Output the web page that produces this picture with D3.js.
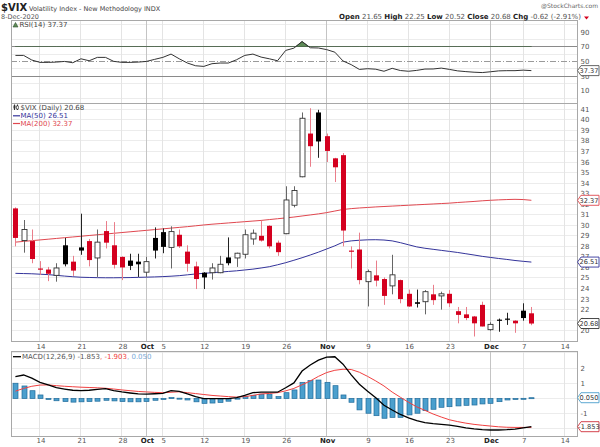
<!DOCTYPE html>
<html>
<head>
<meta charset="utf-8">
<script src="https://cdn.jsdelivr.net/npm/d3@7"></script>
<style>
  body { margin: 0; background: #fff; }
  text { font-family: "DejaVu Sans", Verdana, sans-serif; }
</style>
</head>
<body>
<div id="chart"></div>
<script>
// Trading days 9-Sep-2020 .. 8-Dec-2020 (index 0..63)
var openP  = [31.6,28.55,28.5,25.9,25.8,25.25,28.1,26.55,27.9,28.5, 26.9,29.45,28.1,27.0,26.65,26.55,25.55,28.8,29.35,27.9,
              29.1,27.5,26.1,25.5,25.5,25.5,26.95,26.9,27.25,28.7, 29.0,29.95,28.35,29.2,31.9,34.6,38.7,40.7,38.45,36.35,
              36.65,27.6,27.7,24.65,25.25,24.9,24.25,24.8,23.5,22.7, 22.75,23.45,23.3,23.5,21.85,21.55,21.35,22.45,20.1,21.05,
              21.15,20.95,21.9,21.65];
var highP  = [31.7,30.5,29.6,26.6,26.05,26.4,28.8,27.1,31.1,28.7, 29.6,30.4,30.3,27.05,27.3,27.3,27.0,29.8,29.7,29.9,
              29.6,28.1,26.55,25.55,26.4,27.1,28.85,27.4,29.6,29.6, 30.4,30.0,28.55,33.7,33.7,40.7,41.1,40.95,38.7,36.4,
              36.85,28.0,29.3,25.8,26.65,25.05,27.2,24.85,23.9,23.9, 23.85,24.35,23.7,23.85,22.25,22.25,21.4,22.75,20.8,21.15,
              21.7,21.0,22.6,22.25];
var lowP   = [28.0,27.4,26.4,25.3,24.7,24.65,26.1,25.2,27.2,26.1, 25.1,27.8,25.9,24.8,25.75,25.1,25.1,26.85,27.35,25.9,
              27.85,25.6,23.95,23.95,24.85,25.45,26.2,26.05,26.85,28.15, 28.45,27.8,27.1,29.15,31.7,34.55,35.55,36.4,36.0,34.1,
              28.0,25.9,24.4,22.3,24.2,22.45,23.45,22.6,22.25,22.2, 21.55,22.45,22.0,22.25,20.7,21.0,19.45,20.4,20.0,19.9,
              20.55,19.8,20.95,20.52];
var closeP = [28.8,29.6,26.8,25.8,25.4,25.95,26.3,25.7,27.6,26.7, 28.4,28.35,26.25,26.0,26.15,26.3,26.55,27.6,27.95,29.4,
              28.0,26.35,24.9,25.05,25.95,26.3,26.4,27.35,29.1,29.25, 28.55,28.0,27.45,32.4,33.3,40.15,37.5,37.95,37.05,35.5,
              29.5,27.55,24.8,25.6,24.75,23.3,25.3,23.0,22.3,22.55, 23.7,22.9,23.5,22.6,21.5,21.2,20.7,20.4,20.6,20.95,
              21.05,20.7,21.2,20.68];
var prevClose = 31.46; // 8-Sep close, colours the first candle

var ma50  = [25.44,25.42,25.40,25.36,25.32,25.25,25.18,25.12,25.07,25.05, 25.03,25.02,25.02,25.03,25.04,25.06,25.08,25.10,25.13,25.17,
             25.22,25.30,25.38,25.44,25.50,25.56,25.62,25.68,25.76,25.84, 25.95,26.07,26.25,26.45,26.68,26.92,27.18,27.45,27.75,28.05,
             28.40,28.52,28.58,28.62,28.63,28.60,28.52,28.35,28.15,27.95, 27.82,27.72,27.62,27.52,27.42,27.30,27.18,27.05,26.95,26.85,
             26.76,26.66,26.58,26.51];
var ma200 = [28.40,28.47,28.54,28.61,28.68,28.75,28.82,28.89,28.96,29.03, 29.10,29.17,29.24,29.31,29.38,29.45,29.52,29.59,29.66,29.73,
             29.80,29.87,29.95,30.03,30.10,30.16,30.22,30.28,30.34,30.40, 30.46,30.54,30.62,30.70,30.78,30.88,30.98,31.08,31.20,31.35,
             31.50,31.58,31.64,31.69,31.74,31.78,31.82,31.86,31.90,31.94, 31.98,32.02,32.06,32.10,32.16,32.21,32.26,32.32,32.37,32.41,
             32.44,32.46,32.44,32.37];

var rsi = [58.1,58.1,51.8,48.6,48.6,49.0,49.9,48.1,53.5,50.8, 55.4,55.4,50.0,48.6,48.6,49.0,49.9,52.7,55.4,59.9,
           53.5,47.7,44.0,43.1,46.8,47.7,47.7,52.2,58.1,59.9, 55.8,53.5,50.8,64.9,68.0,77.0,68.5,68.2,66.0,62.5,
           50.5,45.5,39.0,40.0,39.3,36.5,40.5,37.5,36.5,37.7, 39.5,39.6,40.8,39.0,37.0,36.0,35.2,34.7,35.8,37.0,
           37.3,37.3,38.0,37.37];

var macd   = [1.43,1.54,1.33,1.06,0.89,0.71,0.62,0.54,0.52,0.54, 0.60,0.64,0.52,0.43,0.36,0.30,0.28,0.31,0.34,0.51,
              0.47,0.30,0.12,-0.01,-0.01,-0.01,-0.01,0.06,0.20,0.38, 0.41,0.41,0.41,0.70,1.02,1.80,2.20,2.52,2.72,2.74,
              2.25,1.55,0.93,0.48,0.05,-0.45,-0.76,-1.05,-1.28,-1.46, -1.58,-1.65,-1.70,-1.75,-1.83,-1.93,-2.00,-2.05,-2.07,-2.07,
              -2.05,-2.01,-1.93,-1.853];
var signal = [0.48,0.66,0.80,0.88,0.89,0.84,0.80,0.77,0.74,0.72, 0.70,0.67,0.62,0.56,0.51,0.46,0.43,0.40,0.38,0.41,
              0.44,0.38,0.32,0.26,0.20,0.16,0.12,0.09,0.12,0.20, 0.30,0.33,0.38,0.50,0.66,0.90,1.15,1.45,1.70,1.85,
              1.92,1.90,1.72,1.45,1.15,0.82,0.42,0.08,-0.25,-0.55, -0.78,-1.02,-1.22,-1.40,-1.52,-1.62,-1.70,-1.76,-1.81,-1.86,
              -1.89,-1.90,-1.90,-1.903];
var hist   = [1.00,0.82,0.51,0.23,-0.03,-0.15,-0.20,-0.24,-0.22,-0.20, -0.18,-0.12,-0.16,-0.20,-0.22,-0.22,-0.20,-0.12,-0.06,0.06,
              0.02,-0.10,-0.22,-0.32,-0.30,-0.26,-0.18,0.02,0.12,0.21, 0.28,0.28,0.12,0.38,0.56,1.06,1.17,1.21,1.06,0.84,
              0.23,-0.25,-0.75,-0.97,-1.13,-1.30,-1.24,-1.24,-1.08,-0.97, -0.80,-0.71,-0.58,-0.54,-0.49,-0.45,-0.43,-0.36,-0.32,-0.21,
              -0.10,-0.03,0.01,0.05];

// x tick positions (trading-day index) and labels
var tickIdx    = [3, 8, 13, 16, 18, 23, 28, 33, 38, 43, 48, 53, 58, 62, 67];
var tickLabels = ["14", "21", "28", "Oct", "5", "12", "19", "26", "Nov", "9", "16", "23", "Dec", "7", "14"];

var mainTicks = d3.range(20, 42);
var rsiTicks = [10, 30, 50, 70, 90];
var macdTicks = [2, 1, -1];

var svgWidth = 600;
var svgHeight = 447;
var left = 11, right = 577.5;

var svg = d3.select("#chart")
  .append("svg")
  .attr("width", svgWidth)
  .attr("height", svgHeight);

var x = d3.scaleLinear().domain([-0.54, 68.63]).range([left, right]);

var rsiPanel = {top: 20.7, bottom: 103.3};
var mainPanel = {top: 103.3, bottom: 341.7};
var macdPanel = {top: 351.7, bottom: 436};

var yRsi = d3.scaleLinear().domain([10, 90]).range([90.7, 32]);
var yMain = d3.scaleLinear().domain([20, 41]).range([330.7, 109.3]);
var yMacd = d3.scaleLinear().domain([-1, 2]).range([413.7, 368]);

var idx = d3.range(closeP.length);

// Step 1: panels and vertical grid
// ==============================
function verticalGrid(p) {
  svg.append("g").selectAll("line")
    .data(tickIdx)
    .enter()
    .append("line")
    .attr("x1", d => x(d)).attr("x2", d => x(d))
    .attr("y1", p.top).attr("y2", p.bottom)
    .attr("stroke", (d, i) => isNaN(+tickLabels[i]) ? "#c4c4c4" : "#e4e4e4")
    .attr("stroke-width", 1)
    .attr("shape-rendering", "crispEdges");
}

function horizontalGrid(vals, scale, color) {
  svg.append("g").selectAll("line")
    .data(vals)
    .enter()
    .append("line")
    .attr("x1", left).attr("x2", right)
    .attr("y1", d => scale(d)).attr("y2", d => scale(d))
    .attr("stroke", color)
    .attr("shape-rendering", "crispEdges");
}

horizontalGrid([0, 20, 40, 60, 80, 100], yRsi, "#ececec");
horizontalGrid(d3.range(19, 42), yMain, "#ececec");
horizontalGrid([2, 1, 0, -1, -2, 3], yMacd, "#ececec");
[rsiPanel, mainPanel, macdPanel].forEach(verticalGrid);

// RSI reference lines
horizontalGrid([70, 30], yRsi, "#8a8a8a");
svg.append("line")
  .attr("x1", left).attr("x2", right)
  .attr("y1", yRsi(50)).attr("y2", yRsi(50))
  .attr("stroke", "#9a9a9a")
  .attr("stroke-dasharray", "6,2,1,2")
  .attr("shape-rendering", "crispEdges");

// Step 2: RSI
// ==============================
svg.append("clipPath").attr("id", "above70")
  .append("rect")
  .attr("x", left).attr("y", rsiPanel.top)
  .attr("width", right - left).attr("height", yRsi(70) - rsiPanel.top);

svg.append("path")
  .datum(idx)
  .attr("clip-path", "url(#above70)")
  .attr("d", d3.area().x(d => x(d)).y0(yRsi(70)).y1(d => yRsi(rsi[d])))
  .attr("fill", "#5e8c58")
  .attr("stroke", "#2f4f2c")
  .attr("stroke-width", 0.8);

svg.append("path")
  .datum(idx)
  .attr("d", d3.line().x(d => x(d)).y(d => yRsi(rsi[d])))
  .attr("fill", "none")
  .attr("stroke", "#333")
  .attr("stroke-width", 1);

// Step 3: price candles and moving averages
// ==============================
svg.append("path")
  .datum(idx)
  .attr("d", d3.line().x(d => x(d)).y(d => yMain(ma200[d])))
  .attr("fill", "none")
  .attr("stroke", "#e0474f")
  .attr("stroke-width", 1);

svg.append("path")
  .datum(idx)
  .attr("d", d3.line().x(d => x(d)).y(d => yMain(ma50[d])))
  .attr("fill", "none")
  .attr("stroke", "#33339a")
  .attr("stroke-width", 1);

function candleColor(i) {
  var prev = i === 0 ? prevClose : closeP[i - 1];
  return closeP[i] < prev ? "red" : "black";
}

var candles = svg.append("g").selectAll("g")
  .data(idx)
  .enter()
  .append("g");

candles.append("line")
  .attr("x1", d => Math.round(x(d)) + 0.5)
  .attr("x2", d => Math.round(x(d)) + 0.5)
  .attr("y1", d => yMain(highP[d]))
  .attr("y2", d => yMain(lowP[d]))
  .attr("stroke", d => candleColor(d) === "red" ? "#ea7d8a" : (closeP[d] > openP[d] ? "#666" : "#222"))
  .attr("stroke-width", 1);

candles.append("rect")
  .attr("x", d => Math.round(x(d)) - 2)
  .attr("width", 5)
  .attr("y", d => yMain(Math.max(openP[d], closeP[d])))
  .attr("height", d => Math.max(1.2, yMain(Math.min(openP[d], closeP[d])) - yMain(Math.max(openP[d], closeP[d]))))
  .attr("fill", d => closeP[d] > openP[d] ? "#fff" : (candleColor(d) === "red" ? "#d4001f" : "#000"))
  .attr("stroke", d => closeP[d] > openP[d] ? "#333" : "none")
  .attr("stroke-width", 0.9);

// Step 4: MACD
// ==============================
svg.append("g").selectAll("rect")
  .data(idx)
  .enter()
  .append("rect")
  .attr("x", d => Math.round(x(d)) - 2)
  .attr("width", 5)
  .attr("y", d => Math.min(yMacd(0), yMacd(hist[d])))
  .attr("height", d => Math.max(1, Math.abs(yMacd(hist[d]) - yMacd(0))))
  .attr("fill", "#4b9fcd")
  .attr("stroke", "#1f6b9b")
  .attr("stroke-width", 0.7);

svg.append("path")
  .datum(idx)
  .attr("d", d3.line().x(d => x(d)).y(d => yMacd(signal[d])))
  .attr("fill", "none")
  .attr("stroke", "#f04040")
  .attr("stroke-width", 1);

svg.append("path")
  .datum(idx)
  .attr("d", d3.line().x(d => x(d)).y(d => yMacd(macd[d])))
  .attr("fill", "none")
  .attr("stroke", "#000")
  .attr("stroke-width", 1.3);

// panel borders
[rsiPanel, mainPanel, macdPanel].forEach(function(p) {
  svg.append("rect")
    .attr("x", left).attr("y", p.top)
    .attr("width", right - left).attr("height", p.bottom - p.top)
    .attr("fill", "none")
    .attr("stroke", "#a8a8a8")
    .attr("shape-rendering", "crispEdges");
});

// Step 5: axis labels
// ==============================
function rightLabels(vals, scale) {
  svg.append("g").selectAll("text")
    .data(vals)
    .enter()
    .append("text")
    .attr("x", right + 3)
    .attr("y", d => scale(d) + 2.5)
    .attr("font-size", "7px")
    .attr("fill", "#555")
    .text(d => d);
}
rightLabels(rsiTicks, yRsi);
rightLabels(mainTicks, yMain);
rightLabels(macdTicks, yMacd);

function bottomLabels(yPos) {
  svg.append("g").selectAll("text")
    .data(tickIdx)
    .enter()
    .append("text")
    .attr("x", d => x(d) + 1)
    .attr("y", yPos)
    .attr("text-anchor", "middle")
    .attr("font-size", "7px")
    .attr("font-weight", (d, i) => isNaN(+tickLabels[i]) ? "bold" : "normal")
    .attr("fill", (d, i) => isNaN(+tickLabels[i]) ? "#222" : "#555")
    .text((d, i) => tickLabels[i]);
}
bottomLabels(349.3);
bottomLabels(443);

// value boxes on the right edge
function valueBox(v, scale, label, color) {
  var yy = scale(v);
  svg.append("path")
    .attr("d", `M${right},${yy} L${right + 3.5},${yy - 5} L599,${yy - 5} L599,${yy + 5} L${right + 3.5},${yy + 5} Z`)
    .attr("fill", "#fff")
    .attr("stroke", color)
    .attr("stroke-width", 0.9);
  svg.append("text")
    .attr("x", 589)
    .attr("y", yy + 2.4)
    .attr("text-anchor", "middle")
    .attr("font-family", "Liberation Sans, Arial, sans-serif")
    .attr("font-size", "6.6px")
    .attr("fill", "#333")
    .text(label);
}
valueBox(rsi[63], yRsi, "37.37", "#555");
valueBox(ma200[63], yMain, "32.37", "#e0474f");
valueBox(ma50[63], yMain, "26.51", "#33339a");
valueBox(closeP[63], yMain, "20.68", "#333");
valueBox(hist[63], yMacd, "0.050", "#4b9fcd");
valueBox(macd[63], yMacd, "-1.853", "#d0303a");

// Step 6: legends and header
// ==============================
svg.append("path")
  .attr("d", "M13,27 L15.5,22.5 L18,27 Z")
  .attr("fill", "#5e8c58").attr("stroke", "#2f4f2c").attr("stroke-width", 0.6);
svg.append("text").attr("x", 19.5).attr("y", 27).attr("font-size", "7px").attr("fill", "#444")
  .text("RSI(14) 37.37");

svg.append("g").call(function(g) {
  g.append("line").attr("x1", 14.5).attr("x2", 14.5).attr("y1", 104.5).attr("y2", 110).attr("stroke", "#333");
  g.append("rect").attr("x", 13.5).attr("y", 105.5).attr("width", 2).attr("height", 3).attr("fill", "#333");
  g.append("line").attr("x1", 17.5).attr("x2", 17.5).attr("y1", 104.5).attr("y2", 110).attr("stroke", "#333");
  g.append("rect").attr("x", 16.5).attr("y", 106).attr("width", 2).attr("height", 3).attr("fill", "#fff").attr("stroke", "#333").attr("stroke-width", 0.6);
});
svg.append("text").attr("x", 20.5).attr("y", 110.3).attr("font-size", "7px").attr("fill", "#444")
  .text("$VIX (Daily) 20.68");

svg.append("line").attr("x1", 13).attr("x2", 20).attr("y1", 115.8).attr("y2", 115.8).attr("stroke", "#33339a").attr("stroke-width", 1.2);
svg.append("text").attr("x", 20.5).attr("y", 118.3).attr("font-size", "7px").attr("fill", "#33339a")
  .text("MA(50) 26.51");
svg.append("line").attr("x1", 13).attr("x2", 20).attr("y1", 123.5).attr("y2", 123.5).attr("stroke", "#e0474f").attr("stroke-width", 1.2);
svg.append("text").attr("x", 20.5).attr("y", 126).attr("font-size", "7px").attr("fill", "#e0474f")
  .text("MA(200) 32.37");

svg.append("line").attr("x1", 13).attr("x2", 21).attr("y1", 356.7).attr("y2", 356.7).attr("stroke", "#000").attr("stroke-width", 1.3);
var macdLegend = svg.append("text").attr("x", 22).attr("y", 359.3).attr("font-size", "7px");
macdLegend.append("tspan").attr("fill", "#555").text("MACD(12,26,9) -1.853");
macdLegend.append("tspan").attr("fill", "#f04040").text(", -1.903");
macdLegend.append("tspan").attr("fill", "#7aaad8").text(", 0.050");

svg.append("text").attr("x", 1).attr("y", 11).attr("font-size", "10px").attr("font-weight", "bold")
  .attr("font-family", "Liberation Sans, Arial, sans-serif").attr("fill", "#222")
  .text("$VIX");
svg.append("text").attr("x", 29).attr("y", 10.5).attr("font-size", "6.5px").attr("fill", "#444")
  .text("Volatility Index - New Methodology INDX");
svg.append("text").attr("x", 1).attr("y", 19.3).attr("font-size", "6.5px").attr("fill", "#555")
  .text("8-Dec-2020");
svg.append("text").attr("x", 598).attr("y", 8).attr("text-anchor", "end").attr("font-size", "6px").attr("fill", "#666")
  .text("@StockCharts.com");

var quote = svg.append("text").attr("x", 581).attr("y", 19.3).attr("text-anchor", "end").attr("font-size", "7px").attr("fill", "#555");
[["Open", " 21.65 "], ["High", " 22.25 "], ["Low", " 20.52 "], ["Close", " 20.68 "], ["Chg", " -0.62 (-2.91%)"]].forEach(function(p) {
  quote.append("tspan").attr("font-weight", "bold").attr("fill", "#222").text(p[0]);
  quote.append("tspan").text(p[1]);
});
svg.append("path").attr("d", "M584,16.5 L589,16.5 L586.5,19.5 Z").attr("fill", "#d4001f");
</script>
</body>
</html>
